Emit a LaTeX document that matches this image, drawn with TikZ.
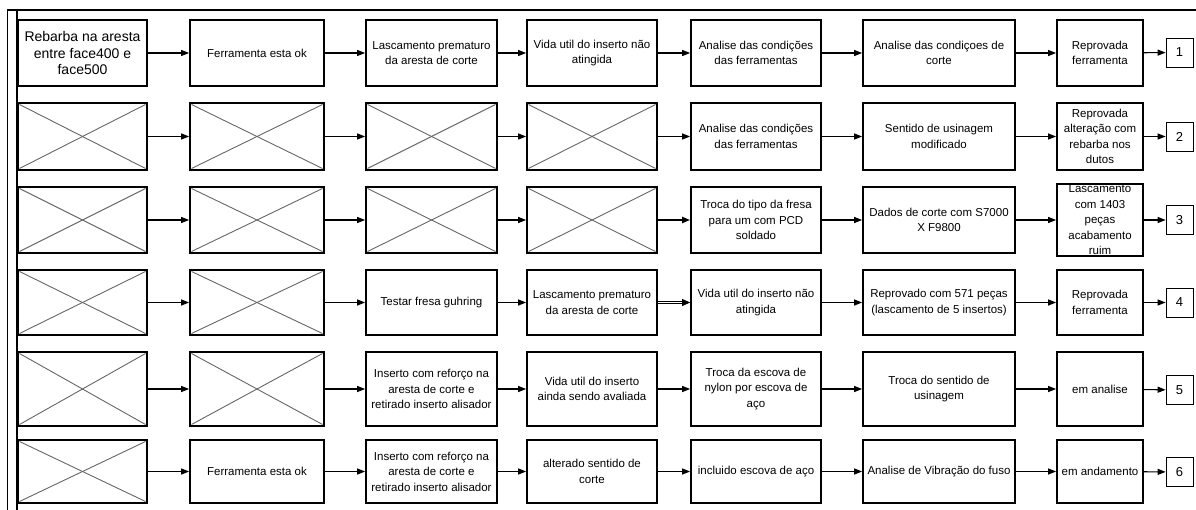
\documentclass[tikz,border=0pt]{standalone}
\usepackage{fontspec}
\setmainfont{Liberation Sans}
\usetikzlibrary{arrows.meta}
\begin{document}
\begin{tikzpicture}[x=1pt,y=-1pt,
  box/.style={draw, line width=1.8pt, inner sep=1pt, align=center,
    font=\fontsize{11.5}{15.5}\selectfont},
  bigtext/.style={font=\fontsize{14}{16.5}\selectfont},
  xbox/.style={draw, line width=1.8pt, inner sep=0pt,
    path picture={
      \draw[line width=0.9pt, black!60]
        ([shift={(1.5pt,-1.5pt)}]path picture bounding box.north west) --
        ([shift={(-1.5pt,1.5pt)}]path picture bounding box.south east);
      \draw[line width=0.9pt, black!60]
        ([shift={(-1.5pt,-1.5pt)}]path picture bounding box.north east) --
        ([shift={(1.5pt,1.5pt)}]path picture bounding box.south west);
    }},
  lbl/.style={draw, line width=0.8pt, minimum width=27pt, minimum height=29pt,
    inner sep=0pt, font=\fontsize{13}{15}\selectfont},
  c1/.style={minimum width=129pt}, c2/.style={minimum width=134pt},
  c3/.style={minimum width=131pt}, c4/.style={minimum width=130pt},
  c5/.style={minimum width=130pt}, c6/.style={minimum width=152pt},
  c7/.style={minimum width=86pt},
  r1/.style={minimum height=66pt}, r2/.style={minimum height=67pt},
  r3/.style={minimum height=66pt}, r4/.style={minimum height=65pt},
  r5/.style={minimum height=74pt}, r6/.style={minimum height=63pt},
  arr/.style={line width=1.1pt, -{Triangle[length=8pt,width=6pt]}},
  arrbold/.style={line width=2pt, -{Triangle[length=8pt,width=6pt]}},
  arrdouble/.style={double, double distance=1.6pt, line width=0.8pt,
    -{Triangle[length=8pt,width=7pt]}}
]
\useasboundingbox (0,0) rectangle (1196,510);

% outer frame
\draw[line width=1.8pt] (1196,10) -- (7.5,10) -- (7.5,510);
\draw[line width=1.8pt] (17,10) -- (17,510);

% row 1
\node[box,bigtext,c1,r1] (a1) at (82.5,53) {Rebarba na aresta\\entre face400 e\\face500};
\node[box,c2,r1] (a2) at (257,53) {Ferramenta esta ok};
\node[box,c3,r1] (a3) at (431.5,53) {Lascamento prematuro\\da aresta de corte};
\node[box,c4,r1] (a4) at (592,53) {Vida util do inserto não\\atingida};
\node[box,c5,r1] (a5) at (756,53) {Analise das condições\\das ferramentas};
\node[box,c6,r1] (a6) at (939,53) {Analise das condiçoes de\\corte};
\node[box,c7,r1] (a7) at (1100,53) {Reprovada\\ferramenta};
\node[lbl] (a8) at (1179.5,52.5) {1};

% row 2
\node[xbox,c1,r2] (b1) at (82.5,136.5) {};
\node[xbox,c2,r2] (b2) at (257,136.5) {};
\node[xbox,c3,r2] (b3) at (431.5,136.5) {};
\node[xbox,c4,r2] (b4) at (592,136.5) {};
\node[box,c5,r2] (b5) at (756,136.5) {Analise das condições\\das ferramentas};
\node[box,c6,r2] (b6) at (939,136.5) {Sentido de usinagem\\modificado};
\node[box,c7,r2] (b7) at (1100,136.5) {Reprovada\\alteração com\\rebarba nos\\dutos};
\node[lbl] (b8) at (1179.5,136.5) {2};

% row 3
\node[xbox,c1,r3] (d1) at (82.5,220) {};
\node[xbox,c2,r3] (d2) at (257,220) {};
\node[xbox,c3,r3] (d3) at (431.5,220) {};
\node[xbox,c4,r3] (d4) at (592,220) {};
\node[box,c5,r3] (d5) at (756,220) {Troca do tipo da fresa\\para um com PCD\\soldado};
\node[box,c6,r3] (d6) at (939,220) {Dados de corte com S7000\\X F9800};
\node[box,c7,r3] (d7) at (1100,220) {Lascamento\\com 1403\\peças\\acabamento\\ruim};
\node[lbl] (d8) at (1179.5,220) {3};

% row 4
\node[xbox,c1,r4] (e1) at (82.5,302.5) {};
\node[xbox,c2,r4] (e2) at (257,302.5) {};
\node[box,c3,r4] (e3) at (431.5,302.5) {Testar fresa guhring};
\node[box,c4,r4] (e4) at (592,302.5) {Lascamento prematuro\\da aresta de corte};
\node[box,c5,r4] (e5) at (756,302.5) {Vida util do inserto não\\atingida};
\node[box,c6,r4] (e6) at (939,302.5) {Reprovado com 571 peças\\(lascamento de 5 insertos)};
\node[box,c7,r4] (e7) at (1100,302.5) {Reprovada\\ferramenta};
\node[lbl] (e8) at (1179.5,302.5) {4};

% row 5
\node[xbox,c1,r5] (f1) at (82.5,389) {};
\node[xbox,c2,r5] (f2) at (257,389) {};
\node[box,c3,r5] (f3) at (431.5,389) {Inserto com reforço na\\aresta de corte e\\retirado inserto alisador};
\node[box,c4,r5] (f4) at (592,389) {Vida util do inserto\\ainda sendo avaliada};
\node[box,c5,r5] (f5) at (756,389) {Troca da escova de\\nylon por escova de\\aço};
\node[box,c6,r5] (f6) at (939,389) {Troca do sentido de\\usinagem};
\node[box,c7,r5] (f7) at (1100,389) {em analise};
\node[lbl] (f8) at (1179.5,390) {5};

% row 6
\node[xbox,c1,r6] (g1) at (82.5,471.5) {};
\node[box,c2,r6] (g2) at (257,471.5) {Ferramenta esta ok};
\node[box,c3,r6] (g3) at (431.5,471.5) {Inserto com reforço na\\aresta de corte e\\retirado inserto alisador};
\node[box,c4,r6] (g4) at (592,471.5) {alterado sentido de\\corte};
\node[box,c5,r6] (g5) at (756,471.5) {incluido escova de aço};
\node[box,c6,r6] (g6) at (939,471.5) {Analise de Vibração do fuso};
\node[box,c7,r6] (g7) at (1100,471.5) {em andamento};
\node[lbl] (g8) at (1179.5,472) {6};

% connectors
\foreach \r in {a,b,e,f,g}{
  \foreach \i/\j in {1/2,2/3,3/4,4/5,5/6,6/7,7/8}{
    \ifnum\j=5
      \if\r e\else\draw[arr] (\r\i) -- (\r\j);\fi
    \else
      \draw[arr] (\r\i) -- (\r\j);
    \fi
  }
}
\foreach \i/\j in {1/2,2/3,3/4,5/6,6/7,7/8}{
  \draw[arr] (d\i) -- (d\j);
}
\draw[arrbold] (d4) -- (d5);
\draw[arrdouble] (e4) -- (e5);
\end{tikzpicture}
\end{document}
